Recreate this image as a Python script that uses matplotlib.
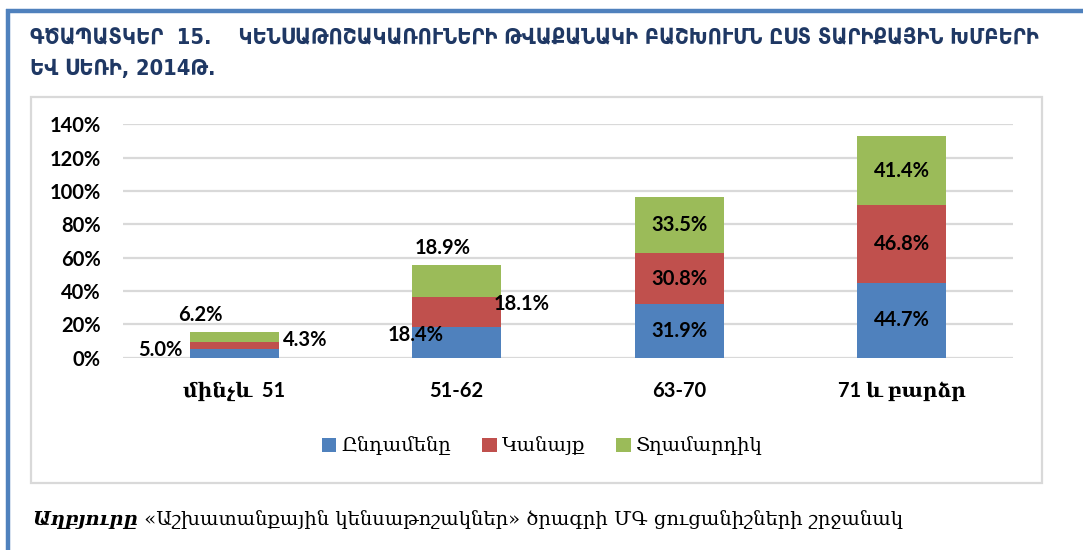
import matplotlib
matplotlib.use("Agg")
import matplotlib.pyplot as plt
from matplotlib.patches import Rectangle, Patch
from matplotlib.lines import Line2D
import numpy as np

# ---- data ----
categories = ["մինչև  51", "51-62", "63-70", "71 և բարձր"]
series_names = ["Ընդամենը", "Կանայք", "Տղամարդիկ"]
total_vals = [5.0, 18.4, 31.9, 44.7]
women_vals = [4.3, 18.1, 30.8, 46.8]
men_vals = [6.2, 18.9, 33.5, 41.4]
yticks = [0, 20, 40, 60, 80, 100, 120, 140]

title_line1 = "ԳԾԱՊԱՏԿԵՐ  15.    ԿԵՆՍԱԹՈՇԱԿԱՌՈՒՆԵՐԻ ԹՎԱՔԱՆԱԿԻ ԲԱՇԽՈՒՄՆ ԸՍՏ ՏԱՐԻՔԱՅԻՆ ԽՄԲԵՐԻ"
title_line2 = "ԵՎ ՍԵՌԻ, 2014Թ."
source_head = "Աղբյուրը"
source_body = " «Աշխատանքային կենսաթոշակներ» ծրագրի ՄԳ ցուցանիշների շրջանակ"

colors = ["#4F81BD", "#C0504D", "#9BBB59"]
W, H = 1083, 550
fig = plt.figure(figsize=(W / 100, H / 100), dpi=100)
fig.patch.set_facecolor("white")

def fx(px):
    return px / W

def fy(py):
    return 1 - py / H

# outer blue frame (top and left)
fig.add_artist(Line2D([fx(6), fx(1083)], [fy(11), fy(11)], color="#4F81BD", lw=3.2, solid_capstyle="butt"))
fig.add_artist(Line2D([fx(8), fx(8)], [fy(9), fy(550)], color="#4F81BD", lw=3.2, solid_capstyle="butt"))

# chart box
fig.add_artist(Rectangle((fx(30.5), fy(483)), fx(1042) - fx(30.5), fy(96.5) - fy(483),
                         fill=False, edgecolor="#D9D9D9", lw=1.6))

# title
tfont = dict(family=["DejaVu Sans"], fontweight="bold", color="#1F3864", fontstretch="condensed")
fig.text(fx(30), fy(38), title_line1, fontsize=15.7, va="center", ha="left", **tfont)
fig.text(fx(30), fy(69), title_line2, fontsize=15.7, va="center", ha="left", **tfont)

# axes
ax = fig.add_axes([fx(123), fy(357.5), fx(1013) - fx(123), fy(124.2) - fy(357.5)])
x = np.arange(len(categories))
bw = 0.40
ax.bar(x, total_vals, bw, color=colors[0], zorder=3)
bottom2 = np.array(total_vals)
ax.bar(x, women_vals, bw, bottom=bottom2, color=colors[1], zorder=3)
bottom3 = bottom2 + np.array(women_vals)
ax.bar(x, men_vals, bw, bottom=bottom3, color=colors[2], zorder=3)

ax.set_xlim(-0.5, 3.5)
ax.set_ylim(0, 140)
ax.set_yticks(yticks)
ax.set_yticklabels([f"{v}%" for v in yticks])
ax.grid(axis="y", color="#D9D9D9", lw=1.6, zorder=0)
ax.set_axisbelow(True)
for s in ax.spines.values():
    s.set_visible(False)
ax.tick_params(axis="both", length=0)
ax.tick_params(axis="y", pad=16)
ax.tick_params(axis="x", pad=17)
ax.set_xticks(x)
ax.set_xticklabels(categories)
lblfont = dict(family=["Lato", "DejaVu Serif"], fontweight="bold", fontsize=14.5)
for t in ax.get_yticklabels() + ax.get_xticklabels():
    t.set_fontfamily(lblfont["family"])
    t.set_fontweight("bold")
    t.set_fontsize(14.5)
    t.set_color("black")

# data labels
def lab(xv, yv, val, ha="center"):
    ax.text(xv, yv, f"{val:.1f}%", ha=ha, va="center", zorder=5, **lblfont)

# first two bars: labels placed around the bars
lab(x[0] - 0.330, 4.5, total_vals[0])
lab(x[0] + 0.319, 10.8, women_vals[0])
lab(x[0] - 0.153, 25.8, men_vals[0])
lab(x[1] - 0.184, 13.5, total_vals[1])
lab(x[1] + 0.292, 32.1, women_vals[1])
lab(x[1] - 0.063, 65.8, men_vals[1])
# last two bars: centered in segments
for i in (2, 3):
    lab(x[i], total_vals[i] / 2, total_vals[i])
    lab(x[i], bottom2[i] + women_vals[i] / 2, women_vals[i])
    lab(x[i], bottom3[i] + men_vals[i] / 2, men_vals[i])

# legend
handles = [Patch(facecolor=c, edgecolor="none") for c in colors]
fig.legend(handles, series_names, loc="center", bbox_to_anchor=(fx(542), fy(446)), ncol=3,
           frameon=False, handlelength=0.75, handleheight=0.75, handletextpad=0.25,
           columnspacing=1.6, prop=dict(family=["DejaVu Serif"], size=14))

# source
fig.canvas.draw()
r = fig.canvas.get_renderer()
t1 = fig.text(fx(32), fy(520), source_head, fontsize=14, va="center", ha="left",
              family=["DejaVu Serif"], fontweight="bold", fontstyle="italic")
bb = t1.get_window_extent(renderer=r)
fig.text(bb.x1 / W, fy(520), source_body, fontsize=14, va="center", ha="left",
         family=["DejaVu Serif"])

fig.savefig("out.png", dpi=100, facecolor="white")
